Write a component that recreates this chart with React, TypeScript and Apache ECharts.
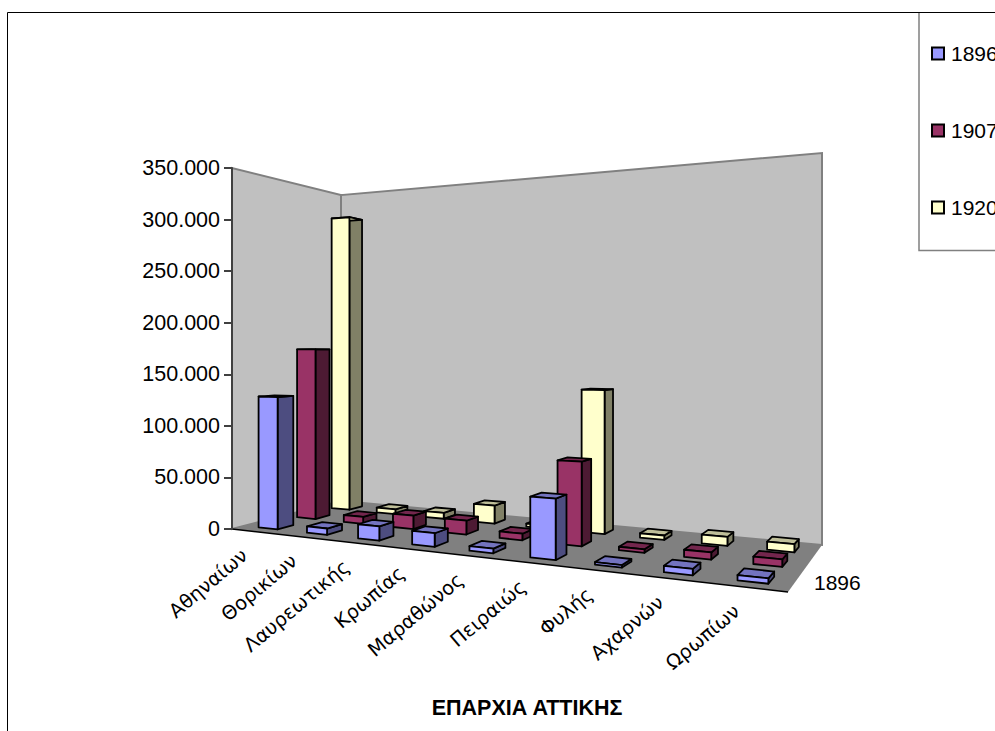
import React, { useEffect, useRef } from "react";
import * as echarts from "echarts";

const categories = ["Αθηναίων", "Θορικίων", "Λαυρεωτικής", "Κρωπίας", "Μαραθώνος", "Πειραιώς", "Φυλής", "Αχαρνών", "Ωρωπίων"];
const years = ["1896", "1907", "1920"];
const values1896 = [128000, 6000, 13000, 12000, 4000, 51000, 2000, 5000, 4000];
const values1907 = [174000, 7000, 13000, 13000, 6000, 75000, 3000, 6000, 6000];
const values1920 = [317000, 5000, 6000, 18000, 3000, 136000, 4000, 8000, 7000];
const yTicks = { min: 0, max: 350000, interval: 50000 };

const FONT = '"Liberation Sans", Arial, sans-serif';
const A = [232, 529], D = [788, 592], C = [822, 545], B = [341, 501];
const dx1 = D[0] - C[0], dx2 = B[0] - C[0], sx = A[0] - D[0] + C[0] - B[0];
const dy1 = D[1] - C[1], dy2 = B[1] - C[1], sy = A[1] - D[1] + C[1] - B[1];
const det = dx1 * dy2 - dx2 * dy1;
const G = (sx * dy2 - dx2 * sy) / det;
const H = (dx1 * sy - sx * dy1) / det;
const a = D[0] - A[0] + G * D[0], b = B[0] - A[0] + H * B[0];
const d = D[1] - A[1] + G * D[1], e = B[1] - A[1] + H * B[1];
const GH = -0.259, HH = 0.18;
function proj(u: number, v: number, h: number) {
  const w = G * u + H * v + 1;
  return [(a * u + b * v + A[0]) / w, (d * u + e * v + A[1]) / w - h / (GH * u + HH * v + 1)];
}

const palette = [
  { front: "#9999FF", side: "#4D4D80", top: "#7373BF" },
  { front: "#993366", side: "#4D1A33", top: "#73264D" },
  { front: "#FFFFCC", side: "#808066", top: "#BFBF99" },
];

function barSeries(name: string, values: number[], s: number) {
  const pal = palette[s];
  const renderItem = (_p: any, api: any) => {
    const i = api.value(0) as number;
    const hpx = api.coord([0, 0])[1] - api.coord([0, api.value(1)])[1];
    const cw = 1 / categories.length, dw = 1 / years.length;
    const u0 = (i + 0.3) * cw, u1 = (i + 0.7) * cw;
    const v0 = (s + 0.3) * dw, v1 = (s + 0.7) * dw;
    const poly = (pts: number[][], fill: string) => ({
      type: "polygon",
      shape: { points: pts },
      style: { fill, stroke: "#000", lineWidth: 1.8, lineJoin: "round" },
    });
    return {
      type: "group",
      children: [
        poly([proj(u1, v0, 0), proj(u1, v1, 0), proj(u1, v1, hpx), proj(u1, v0, hpx)], pal.side),
        poly([proj(u0, v0, hpx), proj(u1, v0, hpx), proj(u1, v1, hpx), proj(u0, v1, hpx)], pal.top),
        poly([proj(u0, v0, 0), proj(u1, v0, 0), proj(u1, v0, hpx), proj(u0, v0, hpx)], pal.front),
      ],
    };
  };
  return {
    type: "custom",
    name,
    z: 4 + (2 - s),
    clip: false,
    itemStyle: { color: pal.front, borderColor: "#000", borderWidth: 2 },
    encode: { x: 0, y: 1 },
    data: values.map((v, i) => [i, v]),
    renderItem,
  };
}

export default function App() {
  const ref = useRef<HTMLDivElement>(null);
  useEffect(() => {
    document.body.style.margin = "0";
    const chart = echarts.init(ref.current!, null, { renderer: "svg" });
    const wallSeries = {
      type: "custom",
      name: "walls",
      z: 1,
      silent: true,
      clip: false,
      data: [[0, yTicks.max]],
      renderItem: (_p: any, api: any) => {
        const h = api.coord([0, 0])[1] - api.coord([0, yTicks.max])[1];
        const st = (fill: string) => ({ fill, stroke: "#808080", lineWidth: 2 });
        return {
          type: "group",
          children: [
            { type: "polygon", shape: { points: [proj(0, 0, 0), proj(0, 1, 0), proj(0, 1, h), proj(0, 0, h)] }, style: st("#C0C0C0") },
            { type: "polygon", shape: { points: [proj(0, 1, 0), proj(1, 1, 0), proj(1, 1, h), proj(0, 1, h)] }, style: st("#C0C0C0") },
            { type: "polygon", shape: { points: [proj(0, 0, 0), proj(1, 0, 0), proj(1, 1, 0), proj(0, 1, 0)] }, style: { fill: "#808080", stroke: "#000", lineWidth: 0 } },
            { type: "line", shape: { x1: A[0], y1: A[1], x2: D[0], y2: D[1] }, style: { stroke: "#000", lineWidth: 1.5 } },
          ],
        };
      },
    };
    const labelSeries = {
      type: "custom",
      name: "labels",
      z: 3,
      silent: true,
      clip: false,
      data: categories.map((_c, i) => [i, 0]),
      renderItem: (p: any, api: any) => {
        const i = api.value(0) as number;
        const pt = proj((i + 0.5) / categories.length, 0, 0);
        return {
          type: "text",
          x: pt[0] - 11,
          y: pt[1] + 21,
          rotation: (40 * Math.PI) / 180,
          style: { text: categories[p.dataIndex], x: 0, y: 0, align: "right", verticalAlign: "middle", fontFamily: '"DejaVu Sans", sans-serif', fontSize: 19.5, fill: "#000" },
        };
      },
    };
    chart.setOption({
      animation: false,
      title: {
        text: "ΕΠΑΡΧΙΑ ΑΤΤΙΚΗΣ",
        left: 522,
        top: 692,
        textAlign: "center",
        textStyle: { fontFamily: FONT, fontSize: 21.5, fontWeight: "bold", color: "#000" },
      },
      grid: { left: A[0], top: 168, width: 590, height: 361, containLabel: false },
      xAxis: { type: "category", data: categories, show: false },
      yAxis: {
        type: "value",
        min: yTicks.min,
        max: yTicks.max,
        interval: yTicks.interval,
        z: 3,
        splitLine: { show: false },
        axisLine: { show: true, lineStyle: { color: "#404040", width: 2 } },
        axisTick: { show: true, length: 8, lineStyle: { color: "#404040", width: 2 } },
        axisLabel: {
          margin: 12,
          fontFamily: FONT,
          fontSize: 21.5,
          color: "#000",
          formatter: (v: number) => (v === 0 ? "0" : `${v / 1000}.000`),
        },
      },
      legend: {
        orient: "vertical",
        left: 926,
        top: 38,
        itemWidth: 12,
        itemHeight: 12,
        itemGap: 56,
        icon: "rect",
        data: years,
        selectedMode: false,
        textStyle: { fontFamily: FONT, fontSize: 21, color: "#000", padding: [0, 0, 0, 2] },
      },
      graphic: [
        { type: "line", z: 0, shape: { x1: 7.5, y1: 12.5, x2: 995, y2: 12.5 }, style: { stroke: "#000", lineWidth: 1 } },
        { type: "line", z: 0, shape: { x1: 7.5, y1: 12.5, x2: 7.5, y2: 731 }, style: { stroke: "#000", lineWidth: 1 } },
        { type: "polyline", z: 0, shape: { points: [[919, 13], [919, 250.5], [995, 250.5]] }, style: { stroke: "#808080", fill: "none", lineWidth: 1.5 } },
        { type: "text", x: 814, y: 572, style: { text: years[0], fontFamily: FONT, fontSize: 21, fill: "#000" } },
      ],
      series: [
        wallSeries,
        labelSeries,
        barSeries(years[2], values1920, 2),
        barSeries(years[1], values1907, 1),
        barSeries(years[0], values1896, 0),
      ],
    });
    return () => chart.dispose();
  }, []);
  return <div ref={ref} style={{ width: 995, height: 731, overflow: "hidden", background: "#fff" }} />;
}
